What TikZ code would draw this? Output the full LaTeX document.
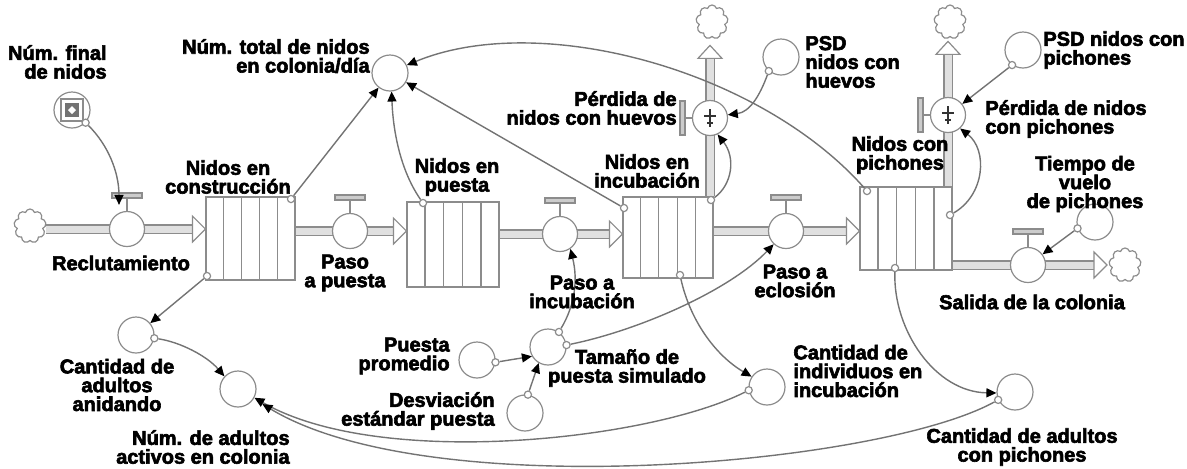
\documentclass[tikz,border=0pt]{standalone}
\usepackage{fontspec}
\setmainfont{Liberation Sans}[BoldFeatures={FakeBold=3}]
\usetikzlibrary{arrows.meta,shapes.symbols,calc}
\pgfdeclarelayer{back}
\pgfsetlayers{back,main}
\begin{document}
\begin{tikzpicture}[x=0.5pt,y=-0.5pt,
  lbl/.style={font=\bfseries\fontsize{10}{9.4}\selectfont, inner sep=0pt, text=black},
  shapeline/.style={draw=black!45, line width=0.6pt},
  aux/.style={shapeline, circle, fill=white, minimum size=18pt, inner sep=0pt},
  valve/.style={shapeline, circle, fill=white, minimum size=17.5pt, inner sep=0pt},
  dot/.style={shapeline, circle, fill=white, minimum size=3.6pt, inner sep=0pt},
  link/.style={draw=black!55, line width=0.7pt, -{Triangle[length=5pt,width=4.5pt,color=black]}},
  pipe/.style={draw=black!45, double=black!12, double distance=3.5pt, line width=0.6pt, shorten >=6pt},
  stockbox/.style={shapeline, fill=white, inner sep=0pt},
  cloudy/.style={cloud, cloud puffs=9, aspect=0.9, shapeline, fill=white, minimum width=16pt, minimum height=17pt, inner sep=0pt},
  hollowtip/.style={shapeline, fill=white},
  rtip/.pic={\draw[hollowtip] (-13,-13) -- (0,0) -- (-13,13) -- cycle;},
  utip/.pic={\draw[hollowtip] (-12,13) -- (0,0) -- (12,13) -- cycle;}
]
\useasboundingbox (0,0) rectangle (1187,468);

% clouds
\node[cloudy] (c1) at (30,226) {};
\node[cloudy] (c2) at (712,22) {};
\node[cloudy] (c3) at (950,22) {};
\node[cloudy] (c4) at (1125,265) {};

% stocks
\node[stockbox, minimum width=44.5pt, minimum height=41.5pt] (s1) at (250.5,238.5) {};
\node[stockbox, minimum width=46pt, minimum height=42.5pt] (s2) at (453,244.5) {};
\node[stockbox, minimum width=45pt, minimum height=40.5pt] (s3) at (668,237.5) {};
\node[stockbox, minimum width=46pt, minimum height=41.5pt] (s4) at (906,228.5) {};
\foreach \s in {s1,s2,s3,s4}{
  \foreach \k in {0.2,0.4,0.6,0.8}{
    \draw[shapeline] ($(\s.south west)!\k!(\s.south east)$) -- ($(\s.north west)!\k!(\s.north east)$);
  }
}

% valves
\node[valve] (v1) at (127,229) {};
\node[valve] (v2) at (350,231) {};
\node[valve] (v3) at (560,234) {};
\node[valve] (v4) at (786,231) {};
\node[valve] (v5) at (710,118) {};
\node[valve] (v6) at (948,115) {};
\node[valve] (v7) at (1028,265) {};
\foreach \v in {v1,v2,v3,v4,v7}{
  \draw[shapeline] (\v.north) -- ++(0,-13);
  \draw[shapeline, fill=black!20] ($(\v.north)+(-15,-18)$) rectangle ($(\v.north)+(15,-13)$);
}
\foreach \v in {v5,v6}{
  \draw[shapeline] (\v.west) -- ++(-7,0);
  \draw[shapeline, fill=black!20] ($(\v.west)+(-12,-17)$) rectangle ($(\v.west)+(-7,17)$);
  \draw[black!80, line width=0.9pt] ($(\v)+(0,-9)$) -- ($(\v)+(0,9)$)
        ($(\v)+(-6,-2)$) -- ($(\v)+(6,-2)$) ($(\v)+(-3,5)$) -- ($(\v)+(3,5)$);
}

% auxiliaries
\node[aux] (nf) at (72,110) {};
\draw[shapeline, fill=white] ($(nf)+(-11,-11)$) rectangle ($(nf)+(11,11)$);
\fill[black!55] ($(nf)+(-7,-7)$) rectangle ($(nf)+(7,7)$);
\fill[white] ($(nf)+(-4,0)$) -- ($(nf)+(0,-4)$) -- ($(nf)+(4,0)$) -- ($(nf)+(0,4)$) -- cycle;
\node[aux] (total) at (390,73) {};
\node[aux] (psdh) at (781,57) {};
\node[aux] (psdp) at (1023,50) {};
\node[aux] (tiempo) at (1095,222) {};
\node[aux] (anid) at (136,335) {};
\node[aux] (adultos) at (238,389) {};
\node[aux] (prom) at (477,360) {};
\node[aux] (desv) at (525,413) {};
\node[aux] (tam) at (548,347) {};
\node[aux] (indiv) at (767,387) {};
\node[aux] (apich) at (1015,392) {};

% pipes
\begin{pgfonlayer}{back}
\draw[pipe] (c1.east |- v1) -- (s1.west |- v1);
\draw[pipe] (s1.east |- v2) -- (s2.west |- v2);
\draw[pipe] (s2.east |- v3) -- (s3.west |- v3);
\draw[pipe] (s3.east |- v4) -- (s4.west |- v4);
\draw[pipe] (s4.east |- v7) -- (c4.west |- v7);
\coordinate (u5) at ($(v5 |- c2.south)+(0,8)$);
\coordinate (u6) at ($(v6 |- c3.south)+(0,4)$);
\draw[pipe] (v5 |- s3.north) -- (u5);
\draw[pipe] (v6 |- s4.north) -- (u6);
\end{pgfonlayer}
\pic at (s1.west |- v1) {rtip};
\pic at (s2.west |- v2) {rtip};
\pic at (s3.west |- v3) {rtip};
\pic at (s4.west |- v4) {rtip};
\pic at ($(c4.west |- v7)+(-2,0)$) {rtip};
\pic at (u5) {utip};
\pic at (u6) {utip};

% connector origin dots
\node[dot] (dnf) at (nf.-43) {};
\node[dot] (ds1tr) at (291,199) {};
\node[dot] (ds1bl) at (207,276) {};
\node[dot] (ds2tl) at (423,203) {};
\node[dot] (ds3tl) at (624,208) {};
\node[dot] (ds3tr) at (711,200) {};
\node[dot] (ds3b) at (680,275) {};
\node[dot] (ds4tl) at (867,191) {};
\node[dot] (ds4r) at (950,215) {};
\node[dot] (ds4b) at (895,268) {};
\node[dot] (dpsdh) at (psdh.229) {};
\node[dot] (dpsdp) at (psdp.234) {};
\node[dot] (dtiempo) at (tiempo.200) {};
\node[dot] (danid) at (anid.-10) {};
\node[dot] (dprom) at (prom.-7) {};
\node[dot] (ddesv) at (desv.81) {};
\node[dot] (dtam1) at (tam.54) {};
\node[dot] (dtam2) at (tam.6) {};
\node[dot] (dindiv) at (indiv.190) {};
\node[dot] (dapich) at (apich.205) {};
\coordinate (v1top) at ($(v1.north)+(-8,-6)$);

% links
\draw[link] (dnf) .. controls (108,145) and (119,172) .. (v1top);
\draw[link] (ds1tr) -- (total);
\draw[link] (ds2tl) .. controls (400,170) and (393,130) .. (total.-85);
\draw[link] (ds3tl) -- (total);
\draw[link] (ds4tl) .. controls (760,70) and (540,10) .. (total.25);
\draw[link] (dpsdh) .. controls (760,95) and (750,112) .. (v5.10);
\draw[link] (ds3tr) .. controls (732,185) and (736,158) .. (v5.-65);
\draw[link] (dpsdp) -- (v6);
\draw[link] (ds4r) .. controls (985,195) and (988,150) .. (v6.-48);
\draw[link] (dtiempo) -- (v7);
\draw[link] (ds1bl) -- (anid);
\draw[link] (danid) .. controls (180,342) and (207,356) .. (adultos.137);
\draw[link] (dprom) -- (tam.210);
\draw[link] (ddesv) -- (tam.240);
\draw[link] (dtam1) .. controls (575,305) and (578,280) .. (v3.-55);
\draw[link] (dtam2) .. controls (640,330) and (730,290) .. (v4.-133);
\draw[link] (ds3b) .. controls (690,320) and (715,355) .. (indiv.146);
\draw[link] (dindiv) .. controls (650,440) and (380,470) .. (adultos.-28);
\draw[link, shorten >=5pt] (dapich) .. controls (880,465) and (430,505) .. (adultos.-32);
\draw[link] (ds4b) .. controls (893,330) and (935,392) .. (apich.183);

% labels
\node[lbl, align=right, anchor=east] (t1) at (107,62) {Núm. final\\de nidos};
\node[lbl, align=right, anchor=east] (t2) at (370,56) {Núm. total de nidos\\en colonia/día};
\node[lbl, align=center] (t3) at (228,177) {Nidos en\\construcción};
\node[lbl] (t4) at (121,263) {Reclutamiento};
\node[lbl, align=center] (t5) at (345,273) {Paso\\a puesta};
\node[lbl, align=center] (t6) at (457,177) {Nidos en\\puesta};
\node[lbl, align=center] (t7) at (647,171) {Nidos en\\incubación};
\node[lbl, align=right, anchor=east] (t8) at (677,108) {Pérdida de\\nidos con huevos};
\node[lbl, align=left, anchor=west] (t9) at (805,62) {PSD\\nidos con\\huevos};
\node[lbl, align=left, anchor=west] (t10) at (1043,50) {PSD nidos con\\pichones};
\node[lbl, align=left, anchor=west] (t11) at (985,119) {Pérdida de nidos\\con pichones};
\node[lbl, align=center] (t12) at (900,155) {Nidos con\\pichones};
\node[lbl, align=center] (t13) at (1085,184) {Tiempo de\\vuelo\\de pichones};
\node[lbl] (t14) at (1032,302) {Salida de la colonia};
\node[lbl, align=center] (t15) at (795,281) {Paso a\\eclosión};
\node[lbl, align=center] (t16) at (582,292) {Paso a\\incubación};
\node[lbl, align=right, anchor=east] (t17) at (450,356) {Puesta\\promedio};
\node[lbl, align=right, anchor=east] (t18) at (495,411) {Desviación\\estándar puesta};
\node[lbl, align=center] (t19) at (627,368) {Tamaño de\\puesta simulado};
\node[lbl, align=center] (t20) at (117,385) {Cantidad de\\adultos\\anidando};
\node[lbl, align=right, anchor=east] (t21) at (290,447) {Núm. de adultos\\activos en colonia};
\node[lbl, align=left, anchor=west] (t22) at (793,371) {Cantidad de\\individuos en\\incubación};
\node[lbl, align=center] (t23) at (1022,447) {Cantidad de adultos\\con pichones};
\end{tikzpicture}
\end{document}
